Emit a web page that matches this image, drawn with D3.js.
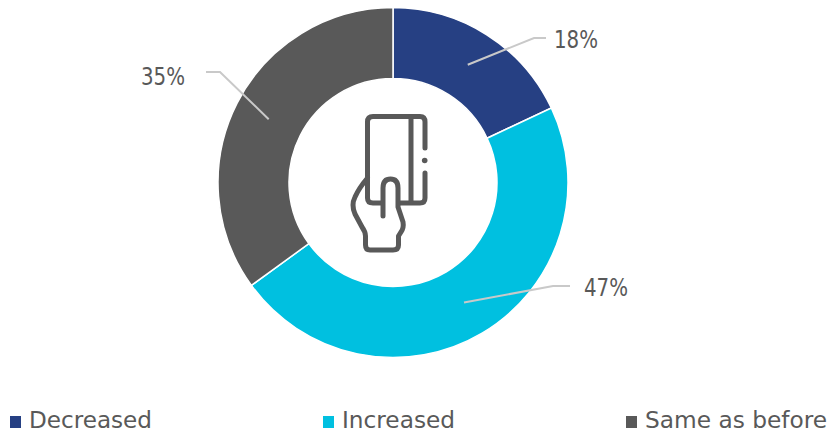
<!DOCTYPE html>
<html><head><meta charset="utf-8">
<script src="https://cdn.jsdelivr.net/npm/d3@7/dist/d3.min.js"></script>
<style>html,body{margin:0;padding:0;background:#fff}svg{display:block}text{font-family:"DejaVu Sans";fill:#595959}</style>
</head><body><svg id="c" width="830" height="433"></svg>
<script>
const categories = ["Decreased","Increased","Same as before"];
const values = [18,47,35];
const colors = ["#264083","#00c0e0","#595959"];
const labels = ["18%","47%","35%"];
const legendX = [10,323,626];
const cx=393, cy=182.5, R=175, r=104;
const elbows = [[534,38,546,"start",554,48],[553,286,570,"start",584,296],[220,72,206,"end",185,84.5]];

const svg=d3.select("#c");
const pie=d3.pie().sort(null).value(d=>d)(values);
const arc=d3.arc().innerRadius(r).outerRadius(R);
const g=svg.append("g").attr("transform",`translate(${cx},${cy})`);
g.selectAll("path").data(pie).join("path").attr("d",arc).attr("fill",(d,i)=>colors[i]).attr("stroke","#fff").attr("stroke-width",1.5);

pie.forEach((d,i)=>{
  const [x,y]=arc.centroid(d), e=elbows[i];
  svg.append("path").attr("d",d3.line()([[cx+x,cy+y],[e[0],e[1]],[e[2],e[1]]]))
    .attr("fill","none").attr("stroke","#c9c9c9").attr("stroke-width",2);
  svg.append("text").attr("x",e[4]).attr("y",e[5]).attr("text-anchor",e[3]).attr("font-size",24)
    .attr("textLength",44).attr("lengthAdjust","spacingAndGlyphs").text(labels[i]);
});

const lw=[123,113,182];
categories.forEach((c,i)=>{
  svg.append("rect").attr("x",legendX[i]).attr("y",416).attr("width",11).attr("height",12).attr("fill",colors[i]);
  svg.append("text").attr("x",legendX[i]+19).attr("y",427.6).attr("font-size",23)
    .attr("textLength",lw[i]).attr("lengthAdjust","spacingAndGlyphs").text(c);
});

// credit-card-in-hand icon
const icon=svg.append("g").attr("fill","none").attr("stroke","#595959").attr("stroke-width",5).attr("stroke-linecap","round").attr("stroke-linejoin","round");
icon.append("path").attr("d","M367.500 178V122Q367.500 116.500 373 116.500H420Q425 116.500 425 122V148");
icon.append("path").attr("d","M425 173V198Q425 203 420 203H399");
icon.append("path").attr("d","M367.500 178V198Q367.500 203 373 203H382");
icon.append("path").attr("d","M411 117V202");
icon.append("path").attr("d","M383 216V188Q383 179 390.500 179Q398 179 398 188V207L403 222Q404 228 401 232L398.500 236V245Q398.500 250 393 250H370Q365.500 250 365.500 245V236Q365.500 232 362 227L355 214Q351 205 355 197Q359 188 367.500 178");
svg.append("circle").attr("cx",424.700).attr("cy",160.500).attr("r",2.800).attr("fill","#595959");
</script></body></html>
